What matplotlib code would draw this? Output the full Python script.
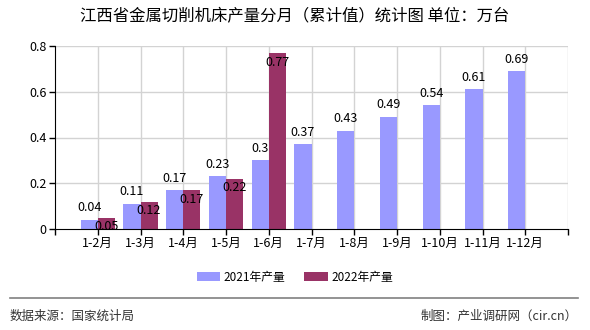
import matplotlib
matplotlib.use("Agg")
import matplotlib.pyplot as plt
from matplotlib.patches import Patch
import numpy as np

plt.rcParams['font.family'] = ['Noto Sans CJK SC', 'DejaVu Sans']

categories = ['1-2月', '1-3月', '1-4月', '1-5月', '1-6月', '1-7月', '1-8月',
              '1-9月', '1-10月', '1-11月', '1-12月']
output_2021 = [0.04, 0.11, 0.17, 0.23, 0.3, 0.37, 0.43, 0.49, 0.54, 0.61, 0.69]
output_2022 = [0.05, 0.12, 0.17, 0.22, 0.77]
series_names = ['2021年产量', '2022年产量']
title = '江西省金属切削机床产量分月（累计值）统计图 单位：万台'
y_ticks = [0, 0.2, 0.4, 0.6, 0.8]
y_tick_labels = ['0', '0.2', '0.4', '0.6', '0.8']

c2021 = '#9999ff'
c2022 = '#993366'

fig = plt.figure(figsize=(5.9, 3.3), dpi=100)
ax = fig.add_axes([55 / 590, 1 - 229 / 330, 513 / 590, 183 / 330])

x = np.arange(1, len(categories) + 1)
w = 0.4
x22 = x[:len(output_2022)]
ax.bar(x - w / 2, output_2021, width=w, color=c2021, zorder=3)
ax.bar(x22 + w / 2, output_2022, width=w, color=c2022, zorder=3)

for xi, v in zip(x, output_2021):
    ax.annotate(f'{v:g}', (xi - w / 2, v), xytext=(0, 4), textcoords='offset points',
                ha='center', va='bottom', fontsize=9, zorder=5)
for xi, v in zip(x22, output_2022):
    ax.annotate(f'{v:g}', (xi + w / 2, v), xytext=(0, -2), textcoords='offset points',
                ha='center', va='top', fontsize=9, zorder=5)

ax.set_xlim(0, 12)
ax.set_ylim(0, 0.8)
ax.set_yticks(y_ticks)
ax.set_yticklabels(y_tick_labels, fontsize=9)
ax.set_xticks(np.arange(0, 13))
ax.set_xticklabels([''] + categories + [''], fontsize=9)
ax.tick_params(axis='both', length=4, width=1, color='black', pad=2)

# grid lines: horizontal at y ticks, vertical at each category
for yv in y_ticks[1:]:
    ax.axhline(yv, color='#d3d3d3', lw=1, zorder=1)
for xv in range(1, 13):
    ax.axvline(xv, color='#d3d3d3', lw=1, zorder=1)

for side in ['top', 'right']:
    ax.spines[side].set_visible(False)
ax.spines['left'].set_color('black')
ax.spines['bottom'].set_color('black')
ax.spines['bottom'].set_zorder(6)

fig.text(0.5, 1 - 17 / 330, title, ha='center', va='center', fontsize=11.8)

handles = [Patch(facecolor=c2021, label=series_names[0]),
           Patch(facecolor=c2022, label=series_names[1])]
fig.legend(handles=handles, loc='center', bbox_to_anchor=(295 / 590, 1 - 277 / 330),
           ncol=2, frameon=False, fontsize=8.5, handlelength=2.0, handleheight=0.7,
           columnspacing=1.6, handletextpad=0.3)

fig.add_artist(plt.Line2D([10 / 590, 578 / 590], [1 - 298 / 330, 1 - 298 / 330],
                          color='#808080', lw=1.2, transform=fig.transFigure))
fig.text(10 / 590, 1 - 316 / 330, '数据来源：国家统计局', ha='left', va='center',
         fontsize=9, color='#333333')
fig.text(578 / 590, 1 - 316 / 330, '制图：产业调研网（cir.cn）', ha='right', va='center',
         fontsize=9, color='#333333')

fig.savefig('out.png', dpi=100)
